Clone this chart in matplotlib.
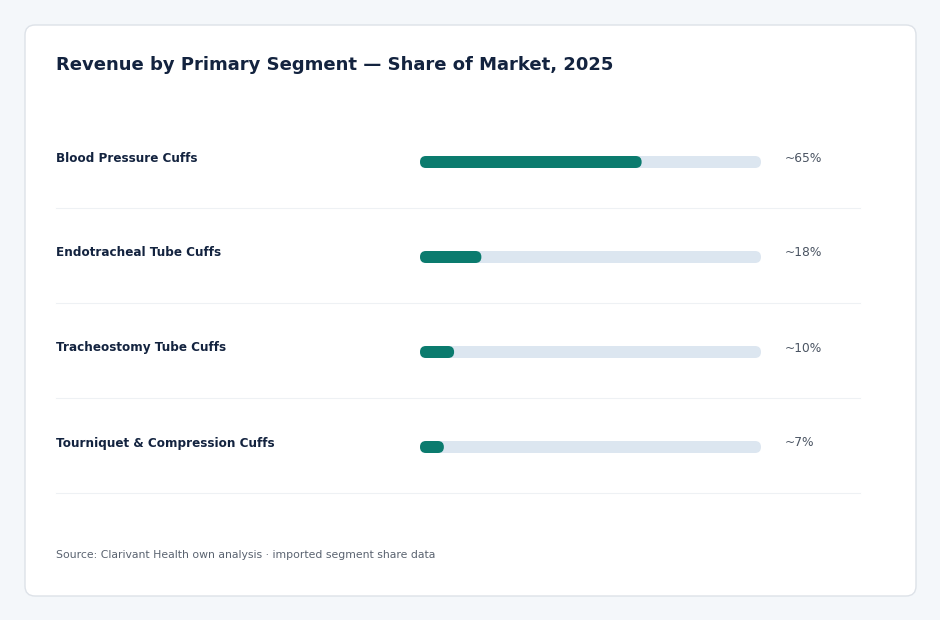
import matplotlib
matplotlib.use("Agg")
import matplotlib.pyplot as plt
from matplotlib.patches import FancyBboxPatch
import matplotlib.transforms as mtransforms

categories = ["Blood Pressure Cuffs", "Endotracheal Tube Cuffs",
              "Tracheostomy Tube Cuffs", "Tourniquet & Compression Cuffs"]
shares = [65, 18, 10, 7]
value_labels = ["~65%", "~18%", "~10%", "~7%"]
title = "Revenue by Primary Segment \u2014 Share of Market, 2025"
source = "Source: Clarivant Health own analysis \u00b7 imported segment share data"

W, H = 940, 620
fig = plt.figure(figsize=(W / 100, H / 100), dpi=100)
fig.patch.set_facecolor("#f4f7fa")

# card
card = FancyBboxPatch((25 / W, 1 - 596 / H), (916 - 25) / W, (596 - 25) / H,
                      boxstyle=f"round,pad=0,rounding_size={10 / W}",
                      mutation_aspect=W / H, transform=fig.transFigure,
                      facecolor="white", edgecolor="#dde2e8", linewidth=1.0,
                      zorder=-10)
fig.patches.append(card)

fig.text(56 / W, 1 - 65 / H, title, fontsize=13, fontweight="bold",
         color="#13233f", va="center", ha="left")
fig.text(56 / W, 1 - 555 / H, source, fontsize=7.85, color="#5a6370",
         va="center", ha="left")

# bar axes
track_l, track_r = 420, 761
top, bottom = 114.5, 494.5
ax = fig.add_axes([track_l / W, 1 - bottom / H, (track_r - track_l) / W, (bottom - top) / H])
ax.set_zorder(1)
ax.patch.set_visible(False)
ax.set_xlim(0, 100)
n = len(categories)
ax.set_ylim(n - 0.5, -0.5)
ax.axis("off")

px_x = 100 / (track_r - track_l)     # data units per px in x
px_y = 1 / 95                         # data units per px in y
bar_h = 12 * px_y
aspect = px_y / px_x
radius = 6 * px_x

blend = mtransforms.blended_transform_factory(fig.transFigure, ax.transData)

for i, (cat, v, lab) in enumerate(zip(categories, shares, value_labels)):
    track = FancyBboxPatch((0, i - bar_h / 2), 100, bar_h,
                           boxstyle=f"round,pad=0,rounding_size={radius}",
                           mutation_aspect=aspect, facecolor="#dce6f0",
                           edgecolor="none", clip_on=False)
    ax.add_patch(track)
    fill = FancyBboxPatch((0, i - bar_h / 2), v, bar_h,
                          boxstyle=f"round,pad=0,rounding_size={radius}",
                          mutation_aspect=aspect, facecolor="#0b7b6e",
                          edgecolor="none", clip_on=False)
    ax.add_patch(fill)
    ax.text(56 / W, i - 4 * px_y, cat, transform=blend, fontsize=8.65,
            fontweight="bold", color="#13233f", va="center", ha="left")
    ax.text(785 / W, i - 4 * px_y, lab, transform=blend, fontsize=8.8,
            color="#4a5462", va="center", ha="left")
    ax.plot([56 / W, 860 / W], [i + 0.5 - 1.5 * px_y] * 2, transform=blend,
            color="#eef1f4", linewidth=0.8, clip_on=False)

fig.savefig("out.png", dpi=100, facecolor=fig.get_facecolor())
